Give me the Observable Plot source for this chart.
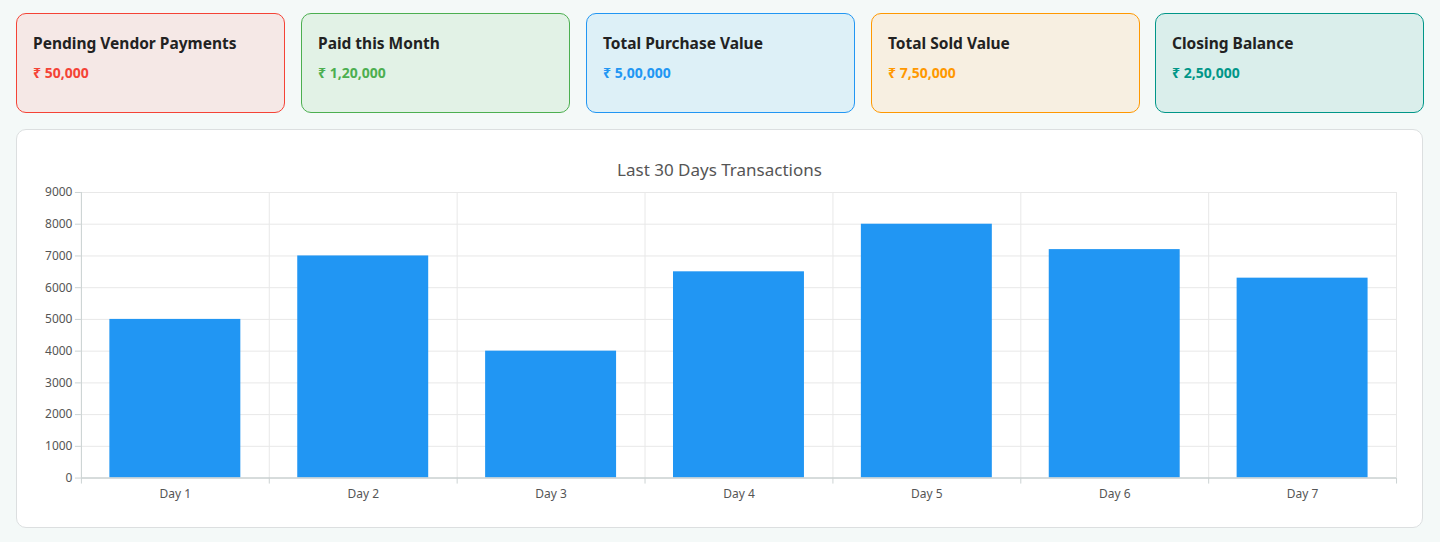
<!DOCTYPE html>
<html><head><meta charset="utf-8">
<script src="https://cdn.jsdelivr.net/npm/d3@7"></script>
<script src="https://cdn.jsdelivr.net/npm/@observablehq/plot@0.6"></script>
<style>
html,body{margin:0;padding:0;background:#f4f9f8;width:1440px;height:542px;overflow:hidden;font-family:"Noto Sans","Open Sans",sans-serif;}
.card{position:absolute;top:13px;width:267px;height:98px;border-radius:10px;border:1px solid;box-sizing:content-box;}
.card .t{position:absolute;left:16px;top:18px;font-size:15.5px;font-weight:700;color:#222;}
.card .v{position:absolute;left:16px;top:49px;font-size:14px;font-weight:700;}
#panel{position:absolute;left:16px;top:129px;width:1405px;height:397px;background:#fff;border:1px solid #dcdfe0;border-radius:10px;}
#title{position:absolute;left:0;width:100%;top:28px;text-align:center;font-size:17px;color:#555;}
#chart{position:absolute;left:0;top:49px;}
</style></head><body>
<div id="cards"></div>
<div id="panel"><div id="title">Last 30 Days Transactions</div><div id="chart"></div></div>
<script>
const cardTitles = ["Pending Vendor Payments","Paid this Month","Total Purchase Value","Total Sold Value","Closing Balance"];
const cardValues = ["₹ 50,000","₹ 1,20,000","₹ 5,00,000","₹ 7,50,000","₹ 2,50,000"];
const cardBorders = ["#f44336","#4caf50","#2196f3","#ff9800","#009688"];
const cardFills = ["#f5e8e6","#e2f2e6","#ddf0f7","#f7efe1","#daeeeb"];
const cardLefts = [16,301,586,871,1155];

const days = ["Day 1","Day 2","Day 3","Day 4","Day 5","Day 6","Day 7"];
const amounts = [5000,7000,4000,6500,8000,7200,6300];

const cardsEl = document.getElementById("cards");
cardTitles.forEach((t,i)=>{
  const c = document.createElement("div");
  c.className="card";
  c.style.left = cardLefts[i]+"px";
  c.style.borderColor = cardBorders[i];
  c.style.background = cardFills[i];
  c.innerHTML = `<div class="t">${t}</div><div class="v" style="color:${cardBorders[i]}">${cardValues[i]}</div>`;
  cardsEl.appendChild(c);
});

const data = days.map((d,i)=>({day:d, i, amount:amounts[i]}));
const chart = Plot.plot({
  width:1407, height:340,
  marginLeft:64, marginRight:26, marginTop:13, marginBottom:41,
  style:{fontFamily:"'Noto Sans','Open Sans',sans-serif", fontSize:"12px", color:"#555", background:"transparent"},
  x:{domain:[0,days.length], axis:null},
  y:{domain:[0,9000], axis:null},
  marks:[
    Plot.gridY({ticks:d3.range(0,9001,1000), stroke:"#e8e8e8", strokeOpacity:1}),
    Plot.gridX({ticks:d3.range(0,days.length+1), stroke:"#e8e8e8", strokeOpacity:1}),
    Plot.rectY(data,{x1:d=>d.i, x2:d=>d.i+1, y:"amount", fill:"#2196f3", insetLeft:28.5, insetRight:28.5}),
    Plot.axisY({ticks:d3.range(0,9001,1000), tickSize:6, tickFormat:d=>String(d), stroke:"#ccd3d3", fill:"#555", tickPadding:3, label:null}),
    Plot.ruleX([0],{stroke:"#ccd3d3"}),
    Plot.ruleY([0],{stroke:"#ccd3d3", strokeWidth:1.5}),
    Plot.axisX({ticks:d3.range(0,days.length+1), tickSize:6, tickFormat:()=>"", stroke:"#ccd3d3", label:null}),
    Plot.axisX({ticks:d3.range(0.5,days.length), tickSize:0, tickPadding:11, tickFormat:v=>days[Math.floor(v)], fill:"#555", label:null})
  ]
});
document.getElementById("chart").appendChild(chart);
</script>
</body></html>
